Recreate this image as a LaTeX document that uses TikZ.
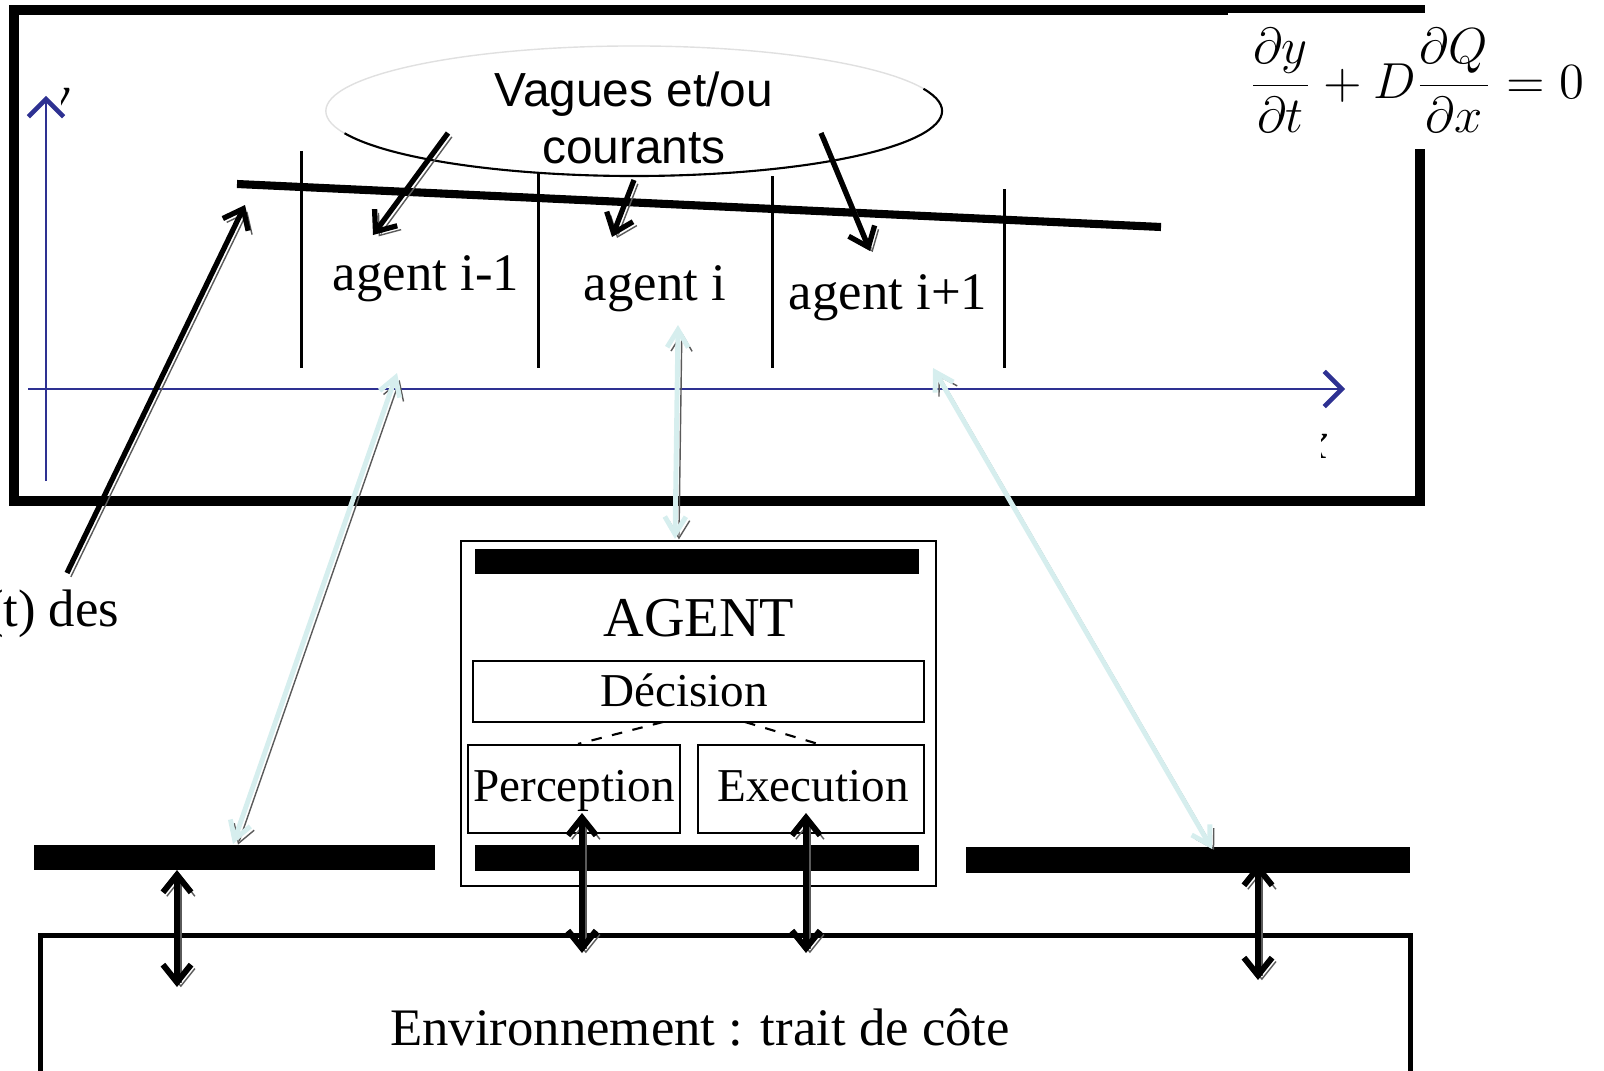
\documentclass[tikz,border=0pt]{standalone}
\usepackage{fontspec}
\setmainfont{Liberation Serif}
\newfontfamily\arialfont{Liberation Sans}
\usetikzlibrary{
  arrows.meta,
  positioning,
  shapes.geometric,
  calc
}
\definecolor{axisblue}{RGB}{46,49,146}
\definecolor{palecyan}{HTML}{D6EEEE}
\definecolor{shadowgray}{HTML}{5A5A5A}

\begin{document}
\begin{tikzpicture}[
      x=0.01cm, y=-0.01cm,
      frame/.style={draw=black, line width=2.6pt},
      bar/.style={rectangle, fill=black, inner sep=0pt},
      modbox/.style={rectangle, draw=black, line width=0.6pt, inner sep=0pt},
      agentlbl/.style={font=\fontsize{15}{18}\selectfont, inner sep=0pt, anchor=base},
      modlbl/.style={font=\fontsize{13.4}{15}\selectfont, inner sep=0pt, anchor=base},
      axis/.style={axisblue, line width=0.6pt,
        -{Straight Barb[length=5pt, width=10pt, line width=1.3pt]}},
      shade/.style={preaction={draw=shadowgray,
        transform canvas={xshift=1.1pt, yshift=-1.1pt}}},
      blackarrow/.style={shade, black, line width=1.5pt,
        -{Straight Barb[length=5pt, width=8pt]}},
      bothways/.style={shade, black, line width=1.7pt,
        {Straight Barb[length=5pt, width=8pt]}-{Straight Barb[length=5pt, width=8pt]}},
      lightway/.style={shade, palecyan, line width=1.4pt,
        {Straight Barb[length=5pt, width=6pt]}-{Straight Barb[length=5pt, width=6pt]}}
    ]
      \useasboundingbox (0,0) rectangle (1604,1070);
      \clip (0,0) rectangle (1604,1070);

      % Model frame and equation
      \draw[frame] (14,10) rectangle (1420,501);
      \node[fill=white, minimum width=3.77cm, minimum height=1.36cm, anchor=north west,
        font=\fontsize{15.5}{18}\selectfont] (eqn) at (1227,12)
        {$\displaystyle\frac{\partial y}{\partial t}+D\frac{\partial Q}{\partial x}=0$};

      % Axes
      \coordinate (yfoot) at (46,481);
      \coordinate (ytip) at (46,96);
      \coordinate (xfoot) at (28,389);
      \coordinate (xtip) at (1345,389);
      \draw[axis] (yfoot) -- (ytip);
      \draw[axis] (xfoot) -- (xtip);
      \begin{scope}
        \clip (61,85) rectangle (75,130);
        \node[font=\fontsize{15}{18}\selectfont\itshape] (ylab) at (58,106) {y};
      \end{scope}
      \begin{scope}
        \clip (1321,430) rectangle (1335,465);
        \node[font=\fontsize{15}{18}\selectfont\itshape] (xlab) at (1316,446) {x};
      \end{scope}

      % Agent cells along the shoreline
      \foreach \xx/\top in {301/151, 538/151, 772/176, 1004/189}
        \draw[line width=0.85pt] (\xx,\top) -- (\xx,368);
      \coordinate (shoreA) at (237,184);
      \coordinate (shoreB) at (1161,227);
      \draw[line width=2.3pt] (shoreA) -- (shoreB);

      \node[agentlbl] (agprev) at (426,290) {agent i-1};
      \node[agentlbl] (agcur) at (655,300) {agent i};
      \node[agentlbl] (agnext) at (888,309) {agent i+1};

      % Forcing
      \node[ellipse, draw=black!12, fill=white, minimum width=6.16cm,
        minimum height=1.30cm, inner sep=0pt] (vagues) at (634,111) {};
      \draw[line width=0.6pt] ($(vagues.center)+(-20:308 and 65)$)
        arc[start angle=-20, end angle=160, x radius=308, y radius=65];
      \node[font=\arialfont\fontsize{13.6}{16}\selectfont, align=center] (vaguestxt)
        at (634,118) {Vagues et/ou\\courants};

      \coordinate (w1s) at (448,133);
      \coordinate (w1e) at (373,235);
      \coordinate (w2s) at (634,180);
      \coordinate (w2e) at (612,237);
      \coordinate (w3s) at (821,133);
      \coordinate (w3e) at (870,251);
      \draw[blackarrow] (w1s) -- (w1e);
      \draw[blackarrow] (w2s) -- (w2e);
      \draw[blackarrow] (w3s) -- (w3e);

      % Position label
      \node[font=\fontsize{15}{18}\selectfont, inner sep=0pt, anchor=base east] (des)
        at (120,626) {(t) des};
      \coordinate (desup) at (67,573);
      \coordinate (shorept) at (245,205);
      \draw[blackarrow] (desup) -- (shorept);

      % Agent architecture
      \node[modbox, minimum width=4.75cm, minimum height=3.45cm] (agentbox) at (698.5,713.5) {};
      \node[bar, minimum width=4.44cm, minimum height=0.25cm] (bartop) at (697,561.5) {};
      \node[font=\fontsize{16}{19}\selectfont, inner sep=0pt, anchor=base] (agenttitle)
        at (699,636) {AGENT};
      \node[modbox, minimum width=4.51cm, minimum height=0.61cm] (decision) at (698.5,691.5) {};
      \node[modlbl] at (684,706) {Décision};
      \node[modbox, minimum width=2.12cm, minimum height=0.88cm] (percep) at (574,789) {};
      \node[modlbl] at (574,801) {Perception};
      \node[modbox, minimum width=2.26cm, minimum height=0.88cm] (exec) at (811,789) {};
      \node[modlbl] at (813,801) {Execution};
      \node[bar, minimum width=4.44cm, minimum height=0.26cm] (barbot) at (697,858) {};

      \coordinate (dp) at (663,722);
      \coordinate (de) at (745,722);
      \draw[dashed, line width=0.6pt] (dp) -- (percep.north -| 578,0);
      \draw[dashed, line width=0.6pt] (de) -- (exec.north -| 818,0);

      % Neighbour bars and environment
      \node[bar, minimum width=4.01cm, minimum height=0.25cm] (barleft) at (234.5,857.5) {};
      \node[bar, minimum width=4.44cm, minimum height=0.26cm] (barright) at (1188,860) {};
      \node[rectangle, draw=black, line width=1.4pt, minimum width=13.69cm,
        minimum height=2cm] (env) at (725.5,1036) {};
      \node[font=\fontsize{15}{18}\selectfont, inner sep=0pt, anchor=base] (envlbl)
        at (700,1045) {Environnement : trait de côte};

      % Links model <-> agents
      \coordinate (l1a) at (397,373);
      \coordinate (l1b) at (233,844);
      \coordinate (l2a) at (678,325);
      \coordinate (l2b) at (675,539);
      \coordinate (l3a) at (933,368);
      \coordinate (l3b) at (1212,849);
      \draw[lightway] (l1a) -- (l1b);
      \draw[lightway] (l2a) -- (l2b);
      \draw[lightway] (l3a) -- (l3b);

      % Links agents <-> environment
      \coordinate (e1a) at (177,870);
      \coordinate (e1b) at (177,987);
      \coordinate (e2a) at (582,813);
      \coordinate (e2b) at (582,953);
      \coordinate (e3a) at (806,813);
      \coordinate (e3b) at (806,953);
      \coordinate (e4a) at (1258,863);
      \coordinate (e4b) at (1258,980);
      \draw[bothways] (e1a) -- (e1b);
      \draw[bothways] (e2a) -- (e2b);
      \draw[bothways] (e3a) -- (e3b);
      \draw[bothways] (e4a) -- (e4b);
    \end{tikzpicture}
\end{document}
